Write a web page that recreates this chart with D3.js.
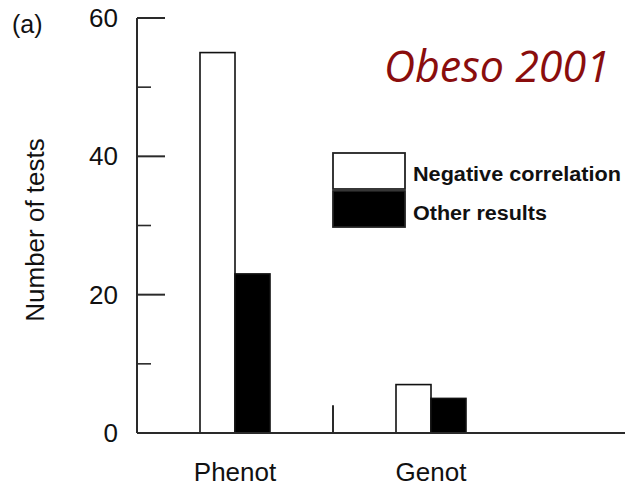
<!DOCTYPE html>
<html>
<head>
<meta charset="utf-8">
<script src="https://cdn.jsdelivr.net/npm/d3@7"></script>
<style>
  html, body { margin: 0; padding: 0; background: #fff; }
  svg { display: block; }
</style>
</head>
<body>
<svg id="chart" width="625" height="486"></svg>
<script>
// Number of tests per study type, split by outcome
const categories = ["Phenot", "Genot"];
const seriesNames = ["Negative correlation", "Other results"];
const negativeCorrelation = [55, 7];
const otherResults = [23, 5];
const seriesFill = ["#ffffff", "#000000"];
const majorTicks = [0, 20, 40, 60];
const minorTicks = [10, 30, 50];
const separatorHeight = 4;

const svg = d3.select("#chart");
const W = 625, H = 486;
const axisX = 137, yTop = 18, yBase = 433;
const font = "'Liberation Sans', Arial, Helvetica, sans-serif";
const ink = "#2a2a2a";

const y = d3.scaleLinear().domain([0, 60]).range([yBase, yTop]);
const x = d3.scaleBand().domain(categories).range([axisX, axisX + 392]).padding(0);
const xSub = d3.scaleBand().domain(seriesNames).range([63, 133]).padding(0);

const rows = categories.map((c, i) => ({
  cat: c,
  values: [negativeCorrelation[i], otherResults[i]]
}));

// bars
const g = svg.append("g");
rows.forEach(r => {
  r.values.forEach((v, j) => {
    g.append("rect")
      .attr("x", x(r.cat) + xSub(seriesNames[j]))
      .attr("y", y(v))
      .attr("width", xSub.bandwidth())
      .attr("height", y(0) - y(v))
      .attr("fill", seriesFill[j])
      .attr("stroke", "#111")
      .attr("stroke-width", 1.6);
  });
});

// y axis line and inward ticks
svg.append("line")
  .attr("x1", axisX).attr("x2", axisX)
  .attr("y1", y(60)).attr("y2", y(0))
  .attr("stroke", ink).attr("stroke-width", 2);
svg.selectAll(".major").data(majorTicks).enter().append("line")
  .attr("x1", axisX).attr("x2", axisX + 28)
  .attr("y1", d => y(d)).attr("y2", d => y(d))
  .attr("stroke", ink).attr("stroke-width", 2);
svg.selectAll(".minor").data(minorTicks).enter().append("line")
  .attr("x1", axisX).attr("x2", axisX + 14)
  .attr("y1", d => y(d)).attr("y2", d => y(d))
  .attr("stroke", ink).attr("stroke-width", 1.6);
svg.selectAll(".ylab").data(majorTicks).enter().append("text")
  .attr("x", 118).attr("y", d => y(d) + 9)
  .attr("text-anchor", "end")
  .attr("font-family", font).attr("font-size", 26)
  .attr("fill", "#111")
  .text(d => d);

// baseline
svg.append("line")
  .attr("x1", axisX).attr("x2", W)
  .attr("y1", y(0)).attr("y2", y(0))
  .attr("stroke", ink).attr("stroke-width", 2);

// separator between the two groups
svg.append("line")
  .attr("x1", x("Genot")).attr("x2", x("Genot"))
  .attr("y1", y(0)).attr("y2", y(separatorHeight))
  .attr("stroke", ink).attr("stroke-width", 2);

// category labels
svg.selectAll(".xlab").data(categories).enter().append("text")
  .attr("x", d => x(d) + x.bandwidth() / 2)
  .attr("y", 481)
  .attr("text-anchor", "middle")
  .attr("font-family", font).attr("font-size", 26)
  .attr("fill", "#111")
  .text(d => d);

// y axis title
svg.append("text")
  .attr("transform", "translate(44,230) rotate(-90)")
  .attr("text-anchor", "middle")
  .attr("font-family", font).attr("font-size", 26)
  .attr("fill", "#111")
  .text("Number of tests");

// panel tag
svg.append("text")
  .attr("x", 12).attr("y", 33)
  .attr("font-family", font).attr("font-size", 25)
  .attr("fill", "#111")
  .text("(a)");

// legend
const legend = svg.append("g");
const legendTop = [153, 191];
const legendBaseline = [181, 220];
const legendTextWidth = [208, 134];
seriesNames.forEach((name, j) => {
  legend.append("rect")
    .attr("x", 333).attr("y", legendTop[j])
    .attr("width", 72).attr("height", 36)
    .attr("fill", seriesFill[j])
    .attr("stroke", "#222").attr("stroke-width", 1.8);
  legend.append("text")
    .attr("x", 413).attr("y", legendBaseline[j])
    .attr("font-family", font).attr("font-size", 20)
    .attr("font-weight", "bold")
    .attr("textLength", legendTextWidth[j])
    .attr("lengthAdjust", "spacingAndGlyphs")
    .attr("fill", "#111")
    .text(name);
});

// source annotation
svg.append("text")
  .attr("x", 384).attr("y", 82)
  .attr("font-family", "'Open Sans', 'Noto Sans', sans-serif")
  .attr("font-style", "italic")
  .attr("font-size", 43)
  .attr("fill", "#8a0d0d")
  .text("Obeso 2001");
</script>
</body>
</html>
